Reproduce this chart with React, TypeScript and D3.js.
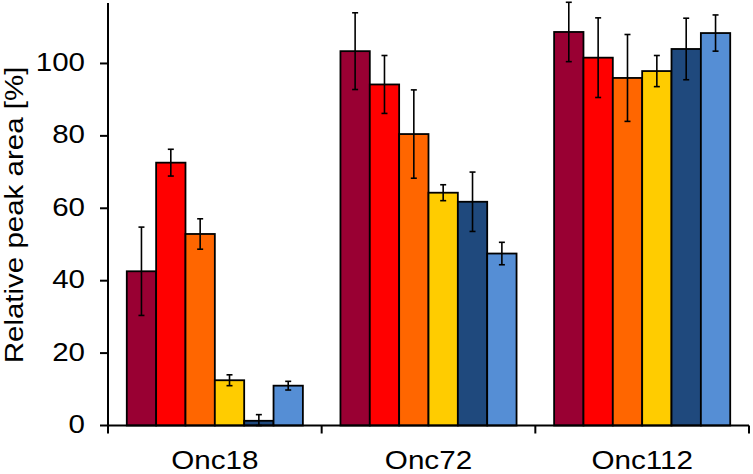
import React from "react";
import * as d3 from "d3";

const categories = ["Onc18", "Onc72", "Onc112"];
const seriesNames = ["s1", "s2", "s3", "s4", "s5", "s6"];
const seriesColors = ["#990033", "#FF0000", "#FF6600", "#FFCC00", "#1F497D", "#558ED5"];
// values per category, per series
const onc18Values = [42.6, 72.6, 52.9, 12.5, 1.3, 11.0];
const onc18Errors = [12.2, 3.7, 4.2, 1.5, 1.7, 1.2];
const onc72Values = [103.4, 94.2, 80.5, 64.3, 61.8, 47.5];
const onc72Errors = [10.6, 8.0, 12.2, 2.2, 8.2, 3.1];
const onc112Values = [108.7, 101.6, 96.0, 97.9, 104.0, 108.4];
const onc112Errors = [8.2, 11.0, 12.0, 4.3, 8.5, 5.0];
const yTicks = [0, 20, 40, 60, 80, 100];
const yLabel = "Relative peak area [%]";

const values = [onc18Values, onc72Values, onc112Values];
const errors = [onc18Errors, onc72Errors, onc112Errors];

const W = 753;
const H = 474;
const left = 108;
const right = 749;
const top = 3;
const bottom = 425.5;
const font = "'Liberation Sans', Arial, sans-serif";

export default function App() {
  const y = d3.scaleLinear().domain([0, 116.7]).range([bottom, top]);
  const x0 = d3.scaleBand<string>().domain(categories).range([left, right]).paddingInner(0).paddingOuter(0);
  const x1 = d3
    .scaleBand<string>()
    .domain(seriesNames)
    .range([0, x0.bandwidth()])
    .paddingInner(0)
    .paddingOuter(0.64);
  const bw = x1.bandwidth();
  const catTicks = [left, ...categories.map((c) => (x0(c) as number) + x0.bandwidth())];

  return (
    <svg
      width={W}
      height={H}
      style={{ position: "absolute", left: 0, top: 0, background: "#fff" }}
      fontFamily={font}
    >
      <rect x={0} y={0} width={W} height={H} fill="#fff" />
      {categories.map((c, ci) =>
        seriesNames.map((s, si) => {
          const v = values[ci][si];
          const e = errors[ci][si];
          const bx = (x0(c) as number) + (x1(s) as number);
          const cx = bx + bw / 2;
          return (
            <g key={c + s}>
              <rect
                x={bx}
                y={y(v)}
                width={bw}
                height={y(0) - y(v)}
                fill={seriesColors[si]}
                stroke="#000"
                strokeWidth={1.8}
              />
              <line x1={cx} x2={cx} y1={y(v + e)} y2={y(Math.max(v - e, 0))} stroke="#000" strokeWidth={1.6} />
              <line x1={cx - 3} x2={cx + 3} y1={y(v + e)} y2={y(v + e)} stroke="#000" strokeWidth={1.6} />
              <line
                x1={cx - 3}
                x2={cx + 3}
                y1={y(Math.max(v - e, 0))}
                y2={y(Math.max(v - e, 0))}
                stroke="#000"
                strokeWidth={1.6}
              />
            </g>
          );
        })
      )}
      {/* y axis */}
      <line x1={left} x2={left} y1={top} y2={bottom} stroke="#000" strokeWidth={2} />
      {yTicks.map((t) => (
        <g key={t}>
          <line x1={left - 8} x2={left} y1={y(t)} y2={y(t)} stroke="#000" strokeWidth={2} />
          <text
            transform={`translate(85,${y(t) + 7.5}) scale(1.18,1)`}
            textAnchor="end"
            fontSize={25}
            fill="#000"
          >
            {t}
          </text>
        </g>
      ))}
      {/* x axis */}
      <line x1={left} x2={right} y1={bottom} y2={bottom} stroke="#000" strokeWidth={2} />
      {catTicks.map((t, i) => (
        <line key={i} x1={t} x2={t} y1={bottom} y2={bottom + 8} stroke="#000" strokeWidth={2} />
      ))}
      {categories.map((c) => (
        <text
          key={c}
          transform={`translate(${(x0(c) as number) + x0.bandwidth() / 2},469) scale(1.14,1)`}
          textAnchor="middle"
          fontSize={26}
          fill="#000"
        >
          {c}
        </text>
      ))}
      <text
        transform={`translate(23,215) rotate(-90) scale(1.18,1)`}
        textAnchor="middle"
        fontSize={25}
        fill="#000"
      >
        {yLabel}
      </text>
    </svg>
  );
}
